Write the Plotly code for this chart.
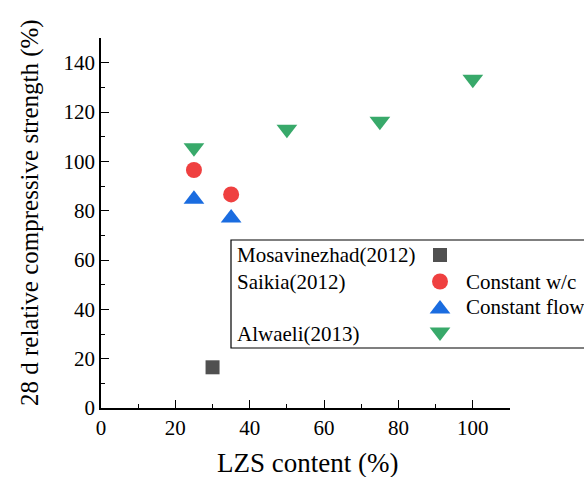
import plotly.graph_objects as go

# ---- data ----
mosavi_x = [30]
mosavi_y = [16.5]

saikia_wc_x = [25, 35]
saikia_wc_y = [96.5, 86.6]

saikia_flow_x = [25, 35]
saikia_flow_y = [84.6, 77.0]

alwaeli_x = [25, 50, 75, 100]
alwaeli_y = [105.5, 113.0, 116.3, 133.3]

x_ticks = [0, 20, 40, 60, 80, 100]
y_ticks = [0, 20, 40, 60, 80, 100, 120, 140]

# ---- styling ----
FONT = "Times New Roman, Liberation Serif, serif"
C_GREY = "#505050"
C_RED = "#EF4040"
C_BLUE = "#1A6CE0"
C_GREEN = "#38A96A"

W, H = 584, 477
L, R, T, B = 101, 74, 38, 69
PW, PH = W - L - R, H - T - B


def px(xpix):
    return (xpix - L) / PW


def py(ypix):
    return (H - B - ypix) / PH


fig = go.Figure()

fig.add_trace(go.Scatter(x=mosavi_x, y=mosavi_y, mode="markers",
                         marker=dict(symbol="square", size=14, color=C_GREY),
                         showlegend=False))
fig.add_trace(go.Scatter(x=saikia_wc_x, y=saikia_wc_y, mode="markers",
                         marker=dict(symbol="circle", size=16, color=C_RED),
                         showlegend=False))
fig.add_trace(go.Scatter(x=saikia_flow_x, y=saikia_flow_y, mode="markers",
                         marker=dict(symbol="triangle-up", size=18, color=C_BLUE),
                         showlegend=False))
fig.add_trace(go.Scatter(x=alwaeli_x, y=alwaeli_y, mode="markers",
                         marker=dict(symbol="triangle-down", size=18, color=C_GREEN),
                         showlegend=False))

# ---- hand-built legend box (pixel-positioned overlay axes) ----
leg_sym_x = 440
leg_rows = [255, 281.5, 307, 334]
key_specs = [
    ("square", 14, C_GREY, leg_rows[0]),
    ("circle", 16, C_RED, leg_rows[1]),
    ("triangle-up", 18, C_BLUE, leg_rows[2] + 2),
    ("triangle-down", 18, C_GREEN, leg_rows[3] - 2),
]
for sym, sz, col, ry in key_specs:
    fig.add_trace(go.Scatter(x=[leg_sym_x], y=[ry], xaxis="x2", yaxis="y2",
                             mode="markers", cliponaxis=False,
                             marker=dict(symbol=sym, size=sz, color=col),
                             showlegend=False, hoverinfo="skip"))

fig.add_shape(type="rect", xref="paper", yref="paper",
              x0=px(231), x1=px(620), y0=py(348), y1=py(240),
              line=dict(color="black", width=1.2), fillcolor="rgba(0,0,0,0)")

left_labels = [("Mosavinezhad(2012)", leg_rows[0]),
               ("Saikia(2012)", leg_rows[1]),
               ("Alwaeli(2013)", leg_rows[3])]
for txt, ry in left_labels:
    fig.add_annotation(text=txt, xref="paper", yref="paper", x=px(235), y=py(ry),
                       xanchor="left", yanchor="middle", showarrow=False,
                       font=dict(family=FONT, size=21, color="black"))

right_labels = [("Constant w/c", leg_rows[1]), ("Constant flow", leg_rows[2])]
for txt, ry in right_labels:
    fig.add_annotation(text=txt, xref="paper", yref="paper", x=px(464), y=py(ry),
                       xanchor="left", yanchor="middle", showarrow=False,
                       font=dict(family=FONT, size=21, color="black"))

# ---- axis titles ----
fig.add_annotation(text="LZS content (%)", xref="paper", yref="paper",
                   x=px(307), y=py(463), xanchor="center", yanchor="middle",
                   showarrow=False, font=dict(family=FONT, size=27, color="black"))
fig.add_annotation(text="28 d relative compressive strength (%)", xref="paper", yref="paper",
                   x=px(30), y=py(213), xanchor="center", yanchor="middle",
                   textangle=-90, showarrow=False,
                   font=dict(family=FONT, size=25, color="black"))

axis_common = dict(
    showgrid=False, zeroline=False, showline=True, linecolor="black", linewidth=1.5,
    ticks="inside", ticklen=8, tickwidth=1.3, tickcolor="black",
    tickfont=dict(family=FONT, size=21, color="black"),
)

fig.update_layout(
    width=W, height=H,
    margin=dict(l=L, r=R, t=T, b=B),
    paper_bgcolor="white", plot_bgcolor="white",
    font=dict(family=FONT, color="black"),
    xaxis=dict(range=[0, 110], tickvals=x_ticks,
               minor=dict(dtick=10, tick0=0, ticks="inside", ticklen=4, tickcolor="black", tickwidth=1.2),
               **axis_common),
    yaxis=dict(range=[0, 150], tickvals=y_ticks,
               minor=dict(dtick=10, tick0=0, ticks="inside", ticklen=4, tickcolor="black", tickwidth=1.2),
               **axis_common),
    xaxis2=dict(overlaying="x", range=[L, W - R], visible=False, fixedrange=True),
    yaxis2=dict(overlaying="y", range=[H - B, T], visible=False, fixedrange=True),
    showlegend=False,
)

fig.write_html("out.html")
